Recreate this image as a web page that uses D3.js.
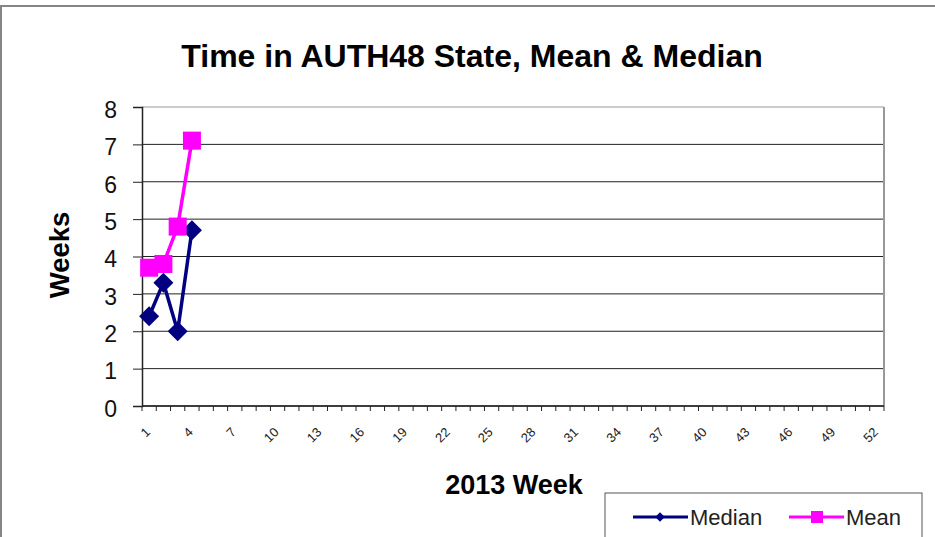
<!DOCTYPE html>
<html>
<head>
<meta charset="utf-8">
<script src="https://cdn.jsdelivr.net/npm/d3@7"></script>
<style>
  body { margin: 0; background: #fff; }
  text { font-family: "Liberation Sans", Arial, sans-serif; }
</style>
</head>
<body>
<div class="chart"></div>
<script>
// weeks 1..52 are the categories, only the first four have values
const weeks = d3.range(1, 53);
const medianWeeks = [2.4, 3.3, 2.0, 4.7];
const meanWeeks = [3.7, 3.8, 4.8, 7.1];
const yTicks = [0, 1, 2, 3, 4, 5, 6, 7, 8];

const width = 935;
const height = 537;
const margin = {top: 107, right: 51, bottom: 131, left: 142};

const svg = d3.select('.chart')
    .append('svg')
    .attr('width', width)
    .attr('height', height)

// chart area border (runs off the right and bottom of the picture)
svg.append('rect')
    .attr('x', 1).attr('y', 6)
    .attr('width', 960).attr('height', 560)
    .attr('fill', 'white')
    .attr('stroke', '#858585')
    .attr('stroke-width', 2)

const x = d3.scaleBand()
    .domain(weeks)
    .range([margin.left, width - margin.right])

const y = d3.scaleLinear()
    .domain([0, 8])
    .range([height - margin.bottom, margin.top])

// gridlines
svg.append('g')
    .selectAll('line')
    .data(yTicks)
    .enter()
    .append('line')
    .attr('x1', margin.left)
    .attr('x2', width - margin.right)
    .attr('y1', d => y(d))
    .attr('y2', d => y(d))
    .attr('stroke', function(d) { return d == 8 ? '#999' : '#222'; })
    .attr('stroke-width', 1)

// right edge of the plot
svg.append('line')
    .attr('x1', width - margin.right).attr('x2', width - margin.right)
    .attr('y1', y(8)).attr('y2', y(0))
    .attr('stroke', '#999')
    .attr('stroke-width', 2)

// y axis
const yAxis = svg.append('g')
    .attr('transform', `translate(${margin.left},0)`)
    .call(d3.axisLeft(y).tickValues(yTicks).tickSize(9).tickPadding(16))
yAxis.select('.domain').attr('stroke', '#222').attr('stroke-width', 1.5)
yAxis.selectAll('.tick line').attr('stroke', '#222')
yAxis.selectAll('text')
    .attr('font-size', 23)
    .attr('fill', '#111')
    .attr('dy', '0.45em')
    .attr('font-family', '"Liberation Sans", Arial, sans-serif')

// x axis: tick marks sit between categories
const xBottom = height - margin.bottom;
const edges = weeks.map(w => x(w)).concat([x(52) + x.bandwidth()]);
svg.append('line')
    .attr('x1', margin.left).attr('x2', width - margin.right)
    .attr('y1', xBottom).attr('y2', xBottom)
    .attr('stroke', '#222')
    .attr('stroke-width', 1.5)
svg.append('g')
    .selectAll('line')
    .data(edges)
    .enter()
    .append('line')
    .attr('x1', d => d).attr('x2', d => d)
    .attr('y1', xBottom).attr('y2', xBottom + 5)
    .attr('stroke', '#222')

// week labels, every third one
svg.append('g')
    .selectAll('text')
    .data(weeks.filter(w => (w - 1) % 3 == 0))
    .enter()
    .append('text')
    .text(d => d)
    .attr('transform', d => `translate(${x(d) + x.bandwidth() / 2 + 2},${xBottom + 27}) rotate(-45)`)
    .attr('text-anchor', 'end')
    .attr('font-size', 13)
    .attr('fill', '#222')

// lines and markers
const line = d3.line()
    .x((d, i) => x(weeks[i]) + x.bandwidth() / 2)
    .y(d => y(d))

svg.append('path')
    .datum(medianWeeks)
    .attr('d', line)
    .attr('fill', 'none')
    .attr('stroke', '#000080')
    .attr('stroke-width', 3.5)

svg.append('path')
    .datum(meanWeeks)
    .attr('d', line)
    .attr('fill', 'none')
    .attr('stroke', '#ff00ff')
    .attr('stroke-width', 3.5)

const diamond = d3.symbol().type(d3.symbolSquare).size(200);
svg.append('g')
    .selectAll('path')
    .data(medianWeeks)
    .enter()
    .append('path')
    .attr('d', diamond)
    .attr('transform', (d, i) => `translate(${x(weeks[i]) + x.bandwidth() / 2},${y(d)}) rotate(45)`)
    .attr('fill', '#000080')

svg.append('g')
    .selectAll('rect')
    .data(meanWeeks)
    .enter()
    .append('rect')
    .attr('x', (d, i) => x(weeks[i]) + x.bandwidth() / 2 - 9)
    .attr('y', d => y(d) - 9)
    .attr('width', 18)
    .attr('height', 18)
    .attr('fill', '#ff00ff')

// titles
svg.append('text')
    .text('Time in AUTH48 State, Mean & Median')
    .attr('x', 472).attr('y', 67)
    .attr('text-anchor', 'middle')
    .attr('font-size', 32)
    .attr('font-weight', 'bold')

svg.append('text')
    .text('Weeks')
    .attr('transform', 'translate(69,255) rotate(-90)')
    .attr('text-anchor', 'middle')
    .attr('font-size', 27.5)
    .attr('font-weight', 'bold')

svg.append('text')
    .text('2013 Week')
    .attr('x', 514).attr('y', 494)
    .attr('text-anchor', 'middle')
    .attr('font-size', 27)
    .attr('font-weight', 'bold')

// legend
svg.append('rect')
    .attr('x', 605).attr('y', 493)
    .attr('width', 317).attr('height', 60)
    .attr('fill', 'white')
    .attr('stroke', '#555')
    .attr('stroke-width', 1)

const legendItems = [
    {name: 'Median', color: '#000080', x: 633},
    {name: 'Mean', color: '#ff00ff', x: 789}
];
legendItems.forEach(function(item, i) {
    svg.append('line')
        .attr('x1', item.x).attr('x2', item.x + 55)
        .attr('y1', 517).attr('y2', 517)
        .attr('stroke', item.color)
        .attr('stroke-width', 3)
    if (i == 0) {
        svg.append('path')
            .attr('d', d3.symbol().type(d3.symbolSquare).size(45))
            .attr('transform', `translate(${item.x + 27},517) rotate(45)`)
            .attr('fill', item.color)
    } else {
        svg.append('rect')
            .attr('x', item.x + 22).attr('y', 511)
            .attr('width', 12).attr('height', 12)
            .attr('fill', item.color)
    }
    svg.append('text')
        .text(item.name)
        .attr('x', item.x + 57).attr('y', 525)
        .attr('font-size', 22)
        .attr('fill', '#222')
})
</script>
</body>
</html>
